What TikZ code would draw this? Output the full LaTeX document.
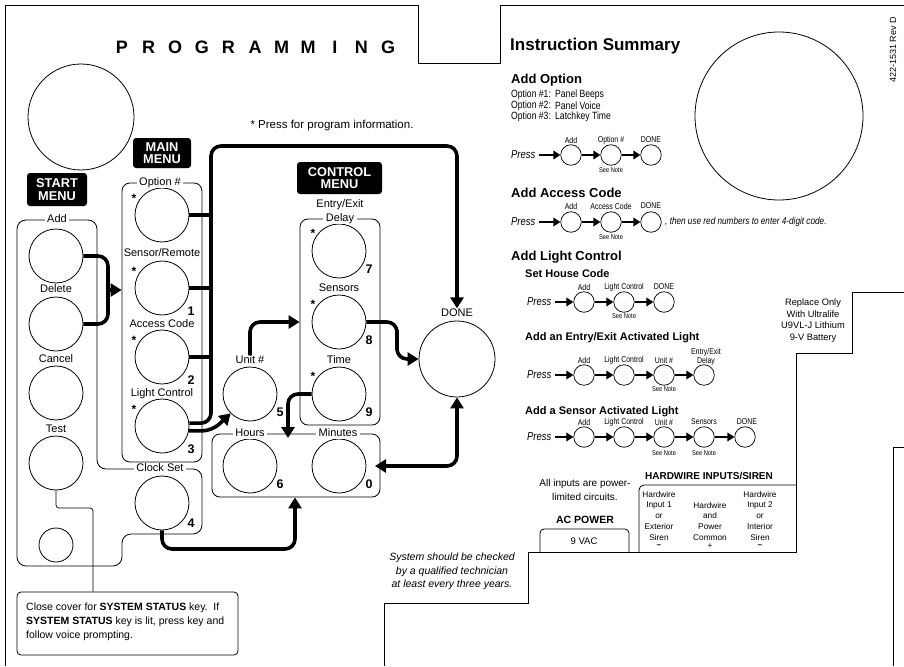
\documentclass[tikz,border=0pt]{standalone}
\usepackage{fontspec}
\setmainfont{Liberation Sans}
\newfontfamily\narrow[FakeStretch=0.82]{Liberation Sans}
\usetikzlibrary{arrows.meta}
\begin{document}
\begin{tikzpicture}[x=1pt,y=-1pt,
  panel/.style={line width=0.8pt},
  btn/.style={circle,draw,line width=0.8pt,minimum size=54pt,inner sep=0pt},
  sbtn/.style={circle,draw,line width=0.7pt,minimum size=20.5pt,inner sep=0pt},
  lbl/.style={font=\fontsize{11}{13}\selectfont,inner sep=1pt,text height=.72em,text depth=.16em},
  glbl/.style={lbl,fill=white,inner xsep=2.5pt},
  num/.style={font=\bfseries\fontsize{12.5}{14}\selectfont,inner sep=0pt},
  star/.style={font=\bfseries\fontsize{12}{12}\selectfont,inner sep=0pt},
  menu/.style={fill=black,text=white,rounded corners=3pt,align=center,font=\bfseries\fontsize{12.8}{12.5}\selectfont,inner sep=0pt},
  grp/.style={draw,line width=0.8pt,rounded corners=8pt,inner sep=0pt},
  link/.style={line width=3.6pt,rounded corners=10pt},
  flow/.style={link,-{Triangle[length=11pt,width=13pt]}},
  dflow/.style={link,{Triangle[length=11pt,width=13pt]}-{Triangle[length=11pt,width=13pt]}},
  sarr/.style={line width=2.6pt,-{Triangle[length=7pt,width=8.5pt]}},
  parr/.style={sarr,shorten <=3pt},
  tiny/.style={font=\narrow\fontsize{8.5}{9.5}\selectfont,inner sep=0pt,align=center},
  snote/.style={font=\narrow\fontsize{7}{8}\selectfont,inner sep=0pt},
  press/.style={font=\narrow\itshape\fontsize{11.5}{12}\selectfont,inner sep=0pt,anchor=west},
  ttl/.style={font=\bfseries\fontsize{18}{18}\selectfont,inner sep=0pt},
  head/.style={font=\bfseries\fontsize{13}{14}\selectfont,inner sep=0pt,anchor=west},
  subhead/.style={font=\bfseries\fontsize{11}{12}\selectfont,inner sep=0pt,anchor=west},
  opt/.style={font=\narrow\fontsize{10.5}{11}\selectfont,inner sep=0pt,anchor=west},
  small/.style={font=\fontsize{8.3}{10.7}\selectfont,inner sep=0pt,align=center}
]
\useasboundingbox (0,0) rectangle (904,666);

% ---------- panel outline ----------
\draw[panel] (5,666) -- (5,5) -- (418,5) -- (418,63) -- (500,63) -- (500,5) -- (904,5);
\draw[panel] (904,292) -- (852,292) -- (852,353) -- (796,353) -- (796,552) -- (528,552) -- (528,603) -- (384,603) -- (384,666);
\draw[panel] (904,447) -- (893,447) -- (893,666);
\draw[panel,rounded corners=5pt] (796,485) -- (639,485) -- (639,552);
\draw[panel,rounded corners=4pt] (540,552) -- (540,529) -- (629,529) -- (629,552);

% ---------- title ----------
\foreach \l [count=\i] in {P,R,O,G,R,A,M,M,I,N,G}
  \node[ttl] (t\i) at ({122+26.6*(\i-1)},47.5) {\l};
\node[font=\fontsize{11.5}{13}\selectfont,inner sep=0pt] (info) at (332,126) {* Press for program information.};

\node[circle,draw,line width=0.8pt,minimum size=106pt,inner sep=0pt] (bigl) at (81,117) {};
\node[circle,draw,line width=0.8pt,minimum size=168pt,inner sep=0pt] (bigr) at (779,116) {};

% ---------- menu headers ----------
\node[menu,minimum width=60pt,minimum height=33pt] (startm) at (57,189.5) {START\\MENU};
\node[menu,minimum width=58pt,minimum height=30pt] (mainm) at (162,153) {MAIN\\MENU};
\node[menu,minimum width=85pt,minimum height=32pt] (ctrlm) at (339.5,178) {CONTROL\\MENU};

% ---------- group outlines ----------
\draw[panel,rounded corners=9pt] (57,220) -- (97,220) -- (97,469) -- (202,469) -- (202,534) -- (122,534) -- (122,566) -- (17,566) -- (17,220) -- cycle;
\node[grp,minimum width=80pt,minimum height=279pt] (mainbox) at (162,322.5) {};
\node[grp,minimum width=80pt,minimum height=206pt] (ctrlbox) at (340,322) {};
\node[grp,minimum width=168pt,minimum height=63pt] (hmbox) at (296,465.5) {};

% ---------- buttons ----------
\node[btn] (add) at (56,256) {};
\node[btn] (del) at (56,324) {};
\node[btn] (cancel) at (56,393) {};
\node[btn] (test) at (56,463) {};
\node[circle,draw,line width=0.8pt,minimum size=34pt,inner sep=0pt] (sbt) at (56,545) {};

\node[btn] (opt) at (162,215) {};
\node[btn] (sens) at (162,288) {};
\node[btn] (acc) at (162,357) {};
\node[btn] (light) at (162,426) {};
\node[btn] (clock) at (162,503) {};

\node[btn] (entry) at (339,251) {};
\node[btn] (sensor) at (339,322) {};
\node[btn] (time) at (339,394) {};
\node[btn] (unit) at (250,394) {};
\node[btn] (hours) at (250,466) {};
\node[btn] (minutes) at (339,466) {};
\node[circle,draw,line width=0.8pt,minimum size=76pt,inner sep=0pt] (done) at (457,359) {};

% ---------- labels ----------
\node[glbl] (laddl) at (57,220) {Add};
\node[lbl] (ldel) at (56,290) {Delete};
\node[lbl] (lcan) at (56,360) {Cancel};
\node[lbl] (ltest) at (56,430) {Test};
\node[glbl] (lopt) at (160,183) {Option \#};
\node[lbl] (lsens) at (162,254) {Sensor/Remote};
\node[lbl] (lacc) at (162,325) {Access Code};
\node[lbl] (llight) at (162,394) {Light Control};
\node[glbl] (lclock) at (160,469) {Clock Set};
\node[lbl] (lentry) at (340,205) {Entry/Exit};
\node[glbl] (ldelay) at (340,219) {Delay};
\node[lbl] (lsensor) at (339,289) {Sensors};
\node[lbl] (ltime) at (339,361) {Time};
\node[lbl] (lunit) at (250,361) {Unit \#};
\node[glbl] (lhours) at (250,434) {Hours};
\node[glbl] (lmin) at (338,434) {Minutes};
\node[lbl] (ldone) at (457,314) {DONE};

% numbers
\node[num] (n1) at ([shift={(29,23)}]sens.center) {1};
\node[num] (n2) at ([shift={(29,23)}]acc.center) {2};
\node[num] (n3) at ([shift={(29,23)}]light.center) {3};
\node[num] (n4) at ([shift={(29,20)}]clock.center) {4};
\node[num] (n7) at ([shift={(30,18)}]entry.center) {7};
\node[num] (n8) at ([shift={(30,18)}]sensor.center) {8};
\node[num] (n9) at ([shift={(30,18)}]time.center) {9};
\node[num] (n5) at ([shift={(30,18)}]unit.center) {5};
\node[num] (n6) at ([shift={(30,18)}]hours.center) {6};
\node[num] (n0) at ([shift={(30,18)}]minutes.center) {0};

% stars
\foreach \c in {opt,sens,acc,light}
  \node[star] (st\c) at ([shift={(-28,-17)}]\c.center) {*};
\foreach \c in {entry,sensor,time}
  \node[star] (st\c) at ([shift={(-26,-18)}]\c.center) {*};

% ---------- thick connectors ----------
\coordinate (brk) at (108,290);
\draw[link] (add.east) -| (brk) |- (del.east);
\draw[flow] (brk) -- (brk -| mainbox.west);

\coordinate (bustop) at (211,146);
\draw[flow] (light.6) -| (bustop) -| (ldone.north);
\draw[link] (opt.east) -- (opt.east -| bustop);
\draw[link] (sens.east) -- (sens.east -| bustop);
\draw[link] (acc.east) -- (acc.east -| bustop);

\coordinate (lu) at (212,431);
\draw[flow] (light.-10) -- (lu) -- (unit.-135);

\draw[flow] (lunit.north) |- (ctrlbox.west |- sensor);

\coordinate (sd) at (397,340);
\draw[flow] (sensor.east) -| (sd) |- (done.west);

\coordinate (td) at (288,438);
\draw[flow] (time.west) -| (td);

\coordinate (mtip) at (375,466);
\draw[dflow] (mtip) -| (done.south);

\coordinate (cb) at (295,549);
\draw[flow] (clock.south) |- (cb) -- (cb |- hmbox.south);

% ---------- test note ----------
\node[draw,line width=0.8pt,rounded corners=4pt,minimum width=221pt,minimum height=63pt,inner sep=0pt] (notebox) at (127.5,623.5) {};
\coordinate (tl) at (93,508);
\draw[line width=0.7pt,rounded corners=3pt] (test.south) |- (tl) -- (tl |- notebox.north);
\node[anchor=north west,align=left,inner sep=0pt,font=\fontsize{10.5}{14}\selectfont] (notetxt) at (26,603) {Close cover for \textbf{SYSTEM STATUS} key.\ \ If\\\textbf{SYSTEM STATUS} key is lit, press key and\\follow voice prompting.};

% ---------- instruction summary ----------
\node[font=\bfseries\fontsize{17}{18}\selectfont,inner sep=0pt,anchor=west] (isum) at (510,46) {Instruction Summary};
\node[head] (h1) at (511,80) {Add Option};
\node[opt] (o1) at (511,95) {Option \#1:};
\node[opt] (o2) at (511,106) {Option \#2:};
\node[opt] (o3) at (511,117) {Option \#3:};
\node[opt] (o1b) at (555,95) {Panel Beeps};
\node[opt] (o2b) at (555,106) {Panel Voice};
\node[opt] (o3b) at (555,117) {Latchkey Time};

% row 1
\node[press] (p1) at (511,155) {Press};
\node[sbtn] (a1) at (571,155) {};
\node[sbtn] (b1) at (611,155) {};
\node[sbtn] (c1) at (651,155) {};
\draw[parr] (p1) -- (a1);
\draw[sarr] (a1) -- (b1);
\draw[sarr] (b1) -- (c1);
\node[tiny] (la1) at (571,140) {Add};
\node[tiny] (lb1) at (611,140) {Option \#};
\node[tiny] (lc1) at (651,140) {DONE};
\node[snote] (nb1) at (611,170) {See Note};

% row 2
\node[head] (h2) at (511,193) {Add Access Code};
\node[press] (p2) at (511,222) {Press};
\node[sbtn] (a2) at (571,222) {};
\node[sbtn] (b2) at (611,222) {};
\node[sbtn] (c2) at (651,222) {};
\draw[parr] (p2) -- (a2);
\draw[sarr] (a2) -- (b2);
\draw[sarr] (b2) -- (c2);
\node[tiny] (la2) at (571,206) {Add};
\node[tiny] (lb2) at (611,206) {Access Code};
\node[tiny] (lc2) at (651,206) {DONE};
\node[snote] (nb2) at (611,237) {See Note};
\node[font=\narrow\itshape\fontsize{10}{12}\selectfont,inner sep=0pt,anchor=west] (red) at (665,222) {, then use red numbers to enter 4-digit code.};

% row 3
\node[head] (h3) at (511,257) {Add Light Control};
\node[subhead] (sh3) at (525,274) {Set House Code};
\node[press] (p3) at (527,302) {Press};
\node[sbtn] (a3) at (584,302) {};
\node[sbtn] (b3) at (624,302) {};
\node[sbtn] (c3) at (664,302) {};
\draw[parr] (p3) -- (a3);
\draw[sarr] (a3) -- (b3);
\draw[sarr] (b3) -- (c3);
\node[tiny] (la3) at (584,287) {Add};
\node[tiny] (lb3) at (624,287) {Light Control};
\node[tiny] (lc3) at (664,287) {DONE};
\node[snote] (nb3) at (624,316) {See Note};

% row 4
\node[subhead] (sh4) at (525,338) {Add an Entry/Exit Activated Light};
\node[press] (p4) at (527,375) {Press};
\node[sbtn] (a4) at (584,375) {};
\node[sbtn] (b4) at (624,375) {};
\node[sbtn] (c4) at (664,375) {};
\node[sbtn] (d4) at (704,375) {};
\draw[parr] (p4) -- (a4);
\draw[sarr] (a4) -- (b4);
\draw[sarr] (b4) -- (c4);
\draw[sarr] (c4) -- (d4);
\node[tiny] (la4) at (584,360) {Add};
\node[tiny] (lb4) at (624,360) {Light Control};
\node[tiny] (lc4) at (664,360) {Unit \#};
\node[tiny] (ld4) at (706,357) {Entry/Exit\\Delay};
\node[snote] (nc4) at (664,389) {See Note};

% row 5
\node[subhead] (sh5) at (525,412) {Add a Sensor Activated Light};
\node[press] (p5) at (527,437) {Press};
\node[sbtn] (a5) at (584,437) {};
\node[sbtn] (b5) at (624,437) {};
\node[sbtn] (c5) at (664,437) {};
\node[sbtn] (d5) at (704,437) {};
\node[sbtn] (e5) at (745,437) {};
\draw[parr] (p5) -- (a5);
\draw[sarr] (a5) -- (b5);
\draw[sarr] (b5) -- (c5);
\draw[sarr] (c5) -- (d5);
\draw[sarr] (d5) -- (e5);
\node[tiny] (la5) at (584,422) {Add};
\node[tiny] (lb5) at (624,422) {Light Control};
\node[tiny] (lc5) at (664,422) {Unit \#};
\node[tiny] (ld5) at (704,422) {Sensors};
\node[tiny] (le5) at (747,422) {DONE};
\node[snote] (nc5) at (664,453) {See Note};
\node[snote] (nd5) at (704,453) {See Note};

% ---------- right-hand notes ----------
\node[font=\fontsize{9}{10}\selectfont,inner sep=0pt,rotate=90] (rev) at (893,50) {422-1531 Rev D};
\node[font=\fontsize{9.3}{11.7}\selectfont,inner sep=0pt,align=center] (batt) at (813,320.5) {Replace Only\\With Ultralife\\U9VL-J Lithium\\9-V Battery};
\node[font=\bfseries\fontsize{10}{12}\selectfont,inner sep=0pt] (hw) at (709,476) {HARDWIRE INPUTS/SIREN};
\node[font=\fontsize{10}{14}\selectfont,inner sep=0pt,align=center] (lim) at (585,490) {All inputs are power-\\limited circuits.};
\node[font=\bfseries\fontsize{10.5}{12}\selectfont,inner sep=0pt] (acp) at (585,520) {AC POWER};
\node[font=\fontsize{9.5}{11}\selectfont,inner sep=0pt] (vac) at (584,541) {9 VAC};
\node[small,anchor=north] (hw1) at (659,491) {Hardwire\\Input 1\\or\\Exterior\\Siren};
\node[small,anchor=north] (hw2) at (710,502) {Hardwire\\and\\Power\\Common};
\node[small,anchor=north] (hw3) at (760,491) {Hardwire\\Input 2\\or\\Interior\\Siren};
\node[small,font=\bfseries\fontsize{8.3}{10}\selectfont] (sg1) at (659,546) {--};
\node[small] (sg2) at (710,546) {+};
\node[small,font=\bfseries\fontsize{8.3}{10}\selectfont] (sg3) at (760,546) {--};
\node[font=\itshape\fontsize{10.5}{13.5}\selectfont,inner sep=0pt,align=center] (chk) at (452,571.5) {System should be checked\\by a qualified technician\\at least every three years.};
\end{tikzpicture}
\end{document}
